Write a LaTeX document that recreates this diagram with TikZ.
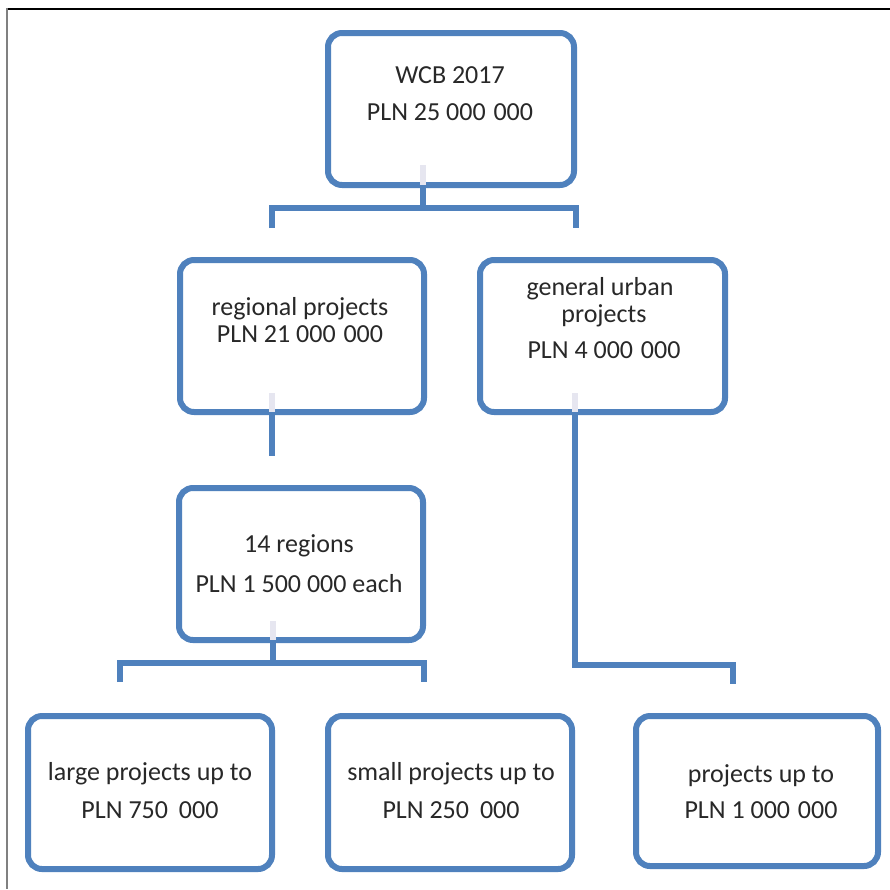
\documentclass[tikz,border=0pt]{standalone}
\usepackage{fontspec}
\setmainfont{Carlito}
\definecolor{boxblue}{RGB}{79,129,189}
\definecolor{stubgray}{RGB}{230,230,240}
\definecolor{txtgray}{RGB}{40,40,40}
\begin{document}
\begin{tikzpicture}[x=1pt,y=-1pt,
  box/.style={draw=boxblue, line width=6pt, rounded corners=14pt, fill=white,
    minimum width=244pt, minimum height=152pt, inner sep=0pt},
  conn/.style={draw=boxblue, line width=6pt, line join=miter},
  stubline/.style={draw=stubgray, line width=6pt},
  txt/.style={anchor=base, text=txtgray, font=\fontsize{26}{30}\selectfont, inner sep=0pt},
  frameline/.style={line width=2pt}]
\useasboundingbox (0,0) rectangle (890,889);
\draw[frameline, black] (6,9) -- (890,9);
\draw[frameline, gray] (7,8) -- (7,889);

% boxes
\node[box, minimum width=246pt] (top) at (451,109) {};
\node[box] (reg) at (302,336) {};
\node[box, minimum width=245pt] (gen) at (602.5,336) {};
\node[box] (reg14) at (301,564) {};
\node[box, minimum height=153pt] (large) at (150,792.5) {};
\node[box, minimum height=153pt] (small) at (450,792.5) {};
\node[box, minimum width=242pt, minimum height=150pt] (right) at (757,791) {};

% junction coordinates
\coordinate (j1) at (423,208);
\coordinate (a1) at (272,228);
\coordinate (b1) at (576,228);
\coordinate (c2) at (272,456);
\coordinate (j3) at (273,663);
\coordinate (a3) at (120,682);
\coordinate (b3) at (424,682);
\coordinate (j4) at (575,665);
\coordinate (b4) at (733,684);

% faint stubs inside boxes
\coordinate (s1) at (423,165);
\coordinate (s2) at (272,393);
\coordinate (s3) at (273,621);
\coordinate (s4) at (575,393);
\draw[stubline] (s1) -- ++(0,20);
\draw[stubline] (s2) -- ++(0,19);
\draw[stubline] (s3) -- ++(0,19);
\draw[stubline] (s4) -- ++(0,19);

% connectors
\draw[conn] (top.south -| j1) -- (j1);
\draw[conn] (a1) |- (j1) -| (b1);
\draw[conn] (reg.south -| c2) -- (c2);
\draw[conn] (reg14.south -| j3) -- (j3);
\draw[conn] (a3) |- (j3) -| (b3);
\draw[conn] (gen.south -| j4) -- (j4) -| (b4);

% texts
\node[txt] (t1a) at (450,83) {WCB 2017};
\node[txt] (t1b) at (450,120) {PLN 25 000\hspace{0.3em}000};
\node[txt] (t2a) at (300,315) {regional projects};
\node[txt] (t2b) at (300,342) {PLN 21 000\hspace{0.3em}000};
\node[txt] (t3a) at (600,295) {general urban};
\node[txt] (t3b) at (604,322) {projects};
\node[txt] (t3c) at (604,358) {PLN 4 000\hspace{0.3em}000};
\node[txt] (t4a) at (299,552) {14 regions};
\node[txt] (t4b) at (299,592) {PLN 1 500 000 each};
\node[txt] (t5a) at (150,780) {large projects up to};
\node[txt] (t5b) at (150,818) {PLN 750\hspace{0.42em}000};
\node[txt] (t6a) at (451,780) {small projects up to};
\node[txt] (t6b) at (451,818) {PLN 250\hspace{0.42em}000};
\node[txt] (t7a) at (761,782) {projects up to};
\node[txt] (t7b) at (761,818) {PLN 1 000\hspace{0.3em}000};
\end{tikzpicture}
\end{document}
